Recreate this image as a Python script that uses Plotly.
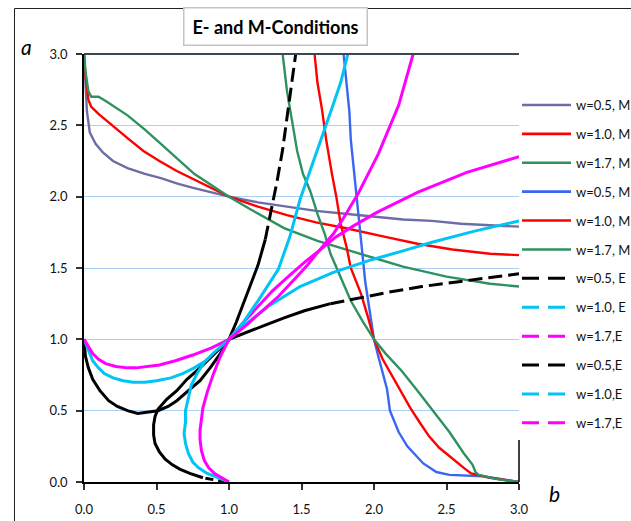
import plotly.graph_objects as go

# ---------------- data ----------------
X_TICKS = [0.0, 0.5, 1.0, 1.5, 2.0, 2.5, 3.0]
X_TICK_LABELS = ["0.0", "0.5", "1.0", "1.5", "2.0", "2.5", "3.0"]
Y_TICKS = [0.0, 0.5, 1.0, 1.5, 2.0, 2.5, 3.0]
Y_TICK_LABELS = ["0.0", "0.5", "1.0", "1.5", "2.0", "2.5", "3.0"]

NAMES = ["w=0.5, M", "w=1.0, M", "w=1.7, M", "w=0.5, M", "w=1.0, M", "w=1.7, M",
         "w=0.5, E", "w=1.0, E", "w=1.7,E", "w=0.5,E", "w=1.0,E", "w=1.7,E"]

# M-condition, first family (start at a=3 on the left)
M05A_X = [0, 0.01, 0.02, 0.04, 0.08, 0.13, 0.2, 0.3, 0.42, 0.53, 0.65, 0.76, 0.88, 1.0,
          1.2, 1.4, 1.6, 1.8, 2.0, 2.2, 2.4, 2.6, 2.8, 3.0]
M05A_Y = [3.0, 2.8, 2.6, 2.45, 2.37, 2.31, 2.25, 2.2, 2.16, 2.13, 2.09, 2.06, 2.03, 2.0,
          1.96, 1.93, 1.9, 1.88, 1.86, 1.84, 1.83, 1.81, 1.8, 1.79]
M10A_X = [0, 0.01, 0.03, 0.05, 0.1, 0.18, 0.3, 0.41, 0.52, 0.64, 0.76, 0.87, 1.0,
          1.2, 1.4, 1.6, 1.8, 2.07, 2.3, 2.54, 2.8, 3.0]
M10A_Y = [3.0, 2.85, 2.68, 2.63, 2.58, 2.51, 2.41, 2.32, 2.25, 2.18, 2.12, 2.06, 2.0,
          1.93, 1.87, 1.82, 1.78, 1.72, 1.67, 1.63, 1.6, 1.59]
M17A_X = [0, 0.01, 0.03, 0.05, 0.1, 0.15, 0.3, 0.42, 0.53, 0.65, 0.76, 0.88, 1.0,
          1.15, 1.38, 1.61, 1.8, 2.0, 2.2, 2.5, 2.8, 3.0]
M17A_Y = [3.0, 2.88, 2.74, 2.7, 2.7, 2.67, 2.57, 2.47, 2.37, 2.26, 2.16, 2.08, 2.0,
          1.91, 1.78, 1.69, 1.63, 1.57, 1.51, 1.44, 1.39, 1.37]

# M-condition, second family (start at a=3 near b=1.4..1.8, end at b=3, a=0)
M05B_X = [1.79, 1.81, 1.83, 1.84, 1.86, 1.88, 1.9, 1.92, 1.94, 1.97, 2.0, 2.03, 2.06,
          2.09, 2.11, 2.17, 2.23, 2.34, 2.43, 2.52, 2.75, 3.0]
M05B_Y = [3.0, 2.8, 2.6, 2.4, 2.2, 2.0, 1.8, 1.6, 1.4, 1.2, 1.0, 0.88, 0.76,
          0.65, 0.5, 0.35, 0.25, 0.13, 0.07, 0.05, 0.04, 0.0]
M10B_X = [1.59, 1.61, 1.64, 1.67, 1.71, 1.74, 1.77, 1.81, 1.84, 1.91, 1.96, 2.0, 2.06,
          2.12, 2.19, 2.25, 2.32, 2.38, 2.45, 2.52, 2.58, 2.63, 2.67, 2.8, 3.0]
M10B_Y = [3.0, 2.8, 2.62, 2.4, 2.16, 2.0, 1.81, 1.65, 1.5, 1.32, 1.15, 1.0, 0.86,
          0.75, 0.62, 0.52, 0.41, 0.32, 0.24, 0.18, 0.13, 0.09, 0.06, 0.03, 0.0]
M17B_X = [1.37, 1.4, 1.44, 1.47, 1.51, 1.56, 1.61, 1.66, 1.7, 1.77, 1.84, 1.92, 2.0,
          2.08, 2.19, 2.3, 2.42, 2.52, 2.62, 2.68, 2.7, 2.72, 2.85, 3.0]
M17B_Y = [3.0, 2.74, 2.5, 2.32, 2.16, 2.04, 1.88, 1.74, 1.6, 1.43, 1.27, 1.13, 1.0,
          0.9, 0.78, 0.64, 0.48, 0.35, 0.2, 0.12, 0.07, 0.05, 0.02, 0.0]

# E-condition, first family (start at a=1 on the left)
E05A_X = [0, 0.005, 0.01, 0.03, 0.06, 0.11, 0.17, 0.23, 0.3, 0.37, 0.44, 0.51, 0.58,
          0.64, 0.72, 0.8, 0.87, 0.94, 1.0, 1.12, 1.25, 1.38, 1.52, 1.7, 1.9, 2.1,
          2.33, 2.63, 2.88, 3.0]
E05A_Y = [1.0, 0.93, 0.88, 0.8, 0.72, 0.64, 0.57, 0.53, 0.5, 0.48, 0.49, 0.5, 0.53,
          0.57, 0.64, 0.71, 0.8, 0.9, 1.0, 1.05, 1.1, 1.15, 1.2, 1.25, 1.29, 1.33,
          1.37, 1.41, 1.44, 1.46]
E10A_X = [0, 0.03, 0.06, 0.1, 0.14, 0.2, 0.27, 0.34, 0.42, 0.5, 0.6, 0.68, 0.76, 0.84,
          0.91, 1.0, 1.12, 1.27, 1.49, 1.72, 1.99, 2.2, 2.4, 2.7, 3.0]
E10A_Y = [1.0, 0.92, 0.85, 0.8, 0.76, 0.73, 0.71, 0.7, 0.7, 0.71, 0.73, 0.76, 0.8, 0.85,
          0.91, 1.0, 1.11, 1.23, 1.37, 1.47, 1.56, 1.62, 1.68, 1.76, 1.83]
E17A_X = [0, 0.03, 0.06, 0.1, 0.15, 0.22, 0.3, 0.36, 0.45, 0.52, 0.63, 0.75, 0.88, 1.0,
          1.1, 1.2, 1.3, 1.42, 1.52, 1.62, 1.74, 1.85, 2.02, 2.3, 2.64, 3.0]
E17A_Y = [1.0, 0.95, 0.9, 0.86, 0.83, 0.81, 0.8, 0.8, 0.81, 0.82, 0.85, 0.89, 0.94, 1.0,
          1.12, 1.23, 1.34, 1.45, 1.54, 1.62, 1.72, 1.79, 1.89, 2.03, 2.17, 2.28]

# E-condition, second family (start at b=1 on the bottom)
E05B_X = [0.98, 0.9, 0.82, 0.73, 0.66, 0.61, 0.56, 0.52, 0.49, 0.48, 0.48, 0.49, 0.51,
          0.57, 0.64, 0.71, 0.8, 0.9, 1.0, 1.05, 1.1, 1.15, 1.2, 1.25, 1.29, 1.33,
          1.37, 1.41, 1.44, 1.46]
E05B_Y = [0.0, 0.015, 0.03, 0.06, 0.09, 0.12, 0.16, 0.21, 0.27, 0.33, 0.4, 0.46, 0.51,
          0.58, 0.64, 0.72, 0.8, 0.9, 1.0, 1.12, 1.25, 1.38, 1.52, 1.7, 1.9, 2.1,
          2.33, 2.63, 2.88, 3.0]
E10B_X = [1.0, 0.92, 0.85, 0.79, 0.75, 0.72, 0.7, 0.69, 0.7, 0.7, 0.72, 0.74, 0.78, 0.83,
          0.9, 1.0, 1.1, 1.2, 1.34, 1.42, 1.49, 1.58, 1.67, 1.72, 1.77, 1.82]
E10B_Y = [0.0, 0.03, 0.06, 0.1, 0.14, 0.2, 0.27, 0.34, 0.42, 0.5, 0.6, 0.68, 0.76, 0.84,
          0.91, 1.0, 1.12, 1.27, 1.49, 1.72, 1.98, 2.24, 2.49, 2.65, 2.8, 3.0]
E17B_X = [1.0, 0.95, 0.9, 0.86, 0.83, 0.81, 0.8, 0.8, 0.81, 0.82, 0.85, 0.89, 0.94, 1.0,
          1.12, 1.23, 1.34, 1.45, 1.54, 1.62, 1.72, 1.79, 1.89, 2.03, 2.17, 2.27]
E17B_Y = [0.0, 0.03, 0.06, 0.1, 0.15, 0.22, 0.3, 0.36, 0.45, 0.52, 0.63, 0.75, 0.88, 1.0,
          1.1, 1.2, 1.3, 1.42, 1.52, 1.62, 1.74, 1.85, 2.02, 2.3, 2.64, 3.0]

# ---------------- styling ----------------
PURPLE = "#6C6CA6"
RED = "#FF0000"
GREEN = "#2E9160"
BLUE = "#3A66F0"
BLACK = "#000000"
CYAN = "#00C4F4"
MAGENTA = "#FF00FF"
FONT = "Lato"
M_W = 2.4
E_W = 3.0
DASH_LEG = "17px,9px"
DASH_SPARSE = "14px,6px"
E05A_SOLID_END = 23     # black E curves look dashed where their points are sparse
E05B_SOLID_START = 2
E05B_SOLID_END = 23

fig = go.Figure()


def add_line(x, y, color, width, dash="solid"):
    fig.add_trace(go.Scatter(x=x, y=y, mode="lines", showlegend=False, hoverinfo="skip",
                             line=dict(color=color, width=width, dash=dash)))


add_line(M05A_X, M05A_Y, PURPLE, M_W)
add_line(M10A_X, M10A_Y, RED, M_W)
add_line(M17A_X, M17A_Y, GREEN, M_W)
add_line(M05B_X, M05B_Y, BLUE, M_W)
add_line(M10B_X, M10B_Y, RED, M_W)
add_line(M17B_X, M17B_Y, GREEN, M_W)

add_line(E05A_X[:E05A_SOLID_END + 1], E05A_Y[:E05A_SOLID_END + 1], BLACK, E_W)
add_line(E05A_X[E05A_SOLID_END:], E05A_Y[E05A_SOLID_END:], BLACK, E_W, DASH_SPARSE)
add_line(E10A_X, E10A_Y, CYAN, E_W)
add_line(E17A_X, E17A_Y, MAGENTA, E_W)
add_line(E05B_X[:E05B_SOLID_START + 1], E05B_Y[:E05B_SOLID_START + 1], BLACK, E_W, "8px,5px")
add_line(E05B_X[E05B_SOLID_START:E05B_SOLID_END + 1], E05B_Y[E05B_SOLID_START:E05B_SOLID_END + 1], BLACK, E_W)
add_line(E05B_X[E05B_SOLID_END:], E05B_Y[E05B_SOLID_END:], BLACK, E_W, DASH_SPARSE)
add_line(E10B_X, E10B_Y, CYAN, E_W)
add_line(E17B_X, E17B_Y, MAGENTA, E_W)

# legend entries
LEG_COLORS = [PURPLE, RED, GREEN, BLUE, RED, GREEN, BLACK, CYAN, MAGENTA, BLACK, CYAN, MAGENTA]
for i, (name, col) in enumerate(zip(NAMES, LEG_COLORS)):
    fig.add_trace(go.Scatter(x=[None], y=[None], mode="lines", name=name,
                             legendgroup="g%d" % i, showlegend=True,
                             line=dict(color=col, width=3 if i >= 6 else 2.6,
                                       dash=DASH_LEG if i >= 6 else "solid")))

L, R, T, B = 84, 112, 54, 39
W, H = 631, 521
PW, PH = W - L - R, H - T - B


def px(xp):
    return (xp - L) / PW


def py(yp):
    return (H - B - yp) / PH


fig.update_layout(
    width=W, height=H,
    margin=dict(l=L, r=R, t=T, b=B, pad=0, autoexpand=False),
    paper_bgcolor="white", plot_bgcolor="white",
    font=dict(family=FONT, size=13, color="#111"),
    showlegend=True,
    legend=dict(x=px(517), xanchor="left", y=py(90), yanchor="top", itemwidth=49,
                font=dict(family=FONT, size=13, color="#111"),
                tracegroupgap=9, bgcolor="rgba(0,0,0,0)", borderwidth=0,
                itemclick=False, itemdoubleclick=False),
    xaxis=dict(range=[0, 3], tickvals=X_TICKS, ticktext=X_TICK_LABELS, automargin=False,
               showgrid=False, zeroline=False, showline=True, linecolor="black",
               linewidth=2, ticks="outside", ticklen=6, tickwidth=1.5, tickcolor="#333",
               ticklabelstandoff=8, tickfont=dict(family=FONT, size=13, color="#111")),
    yaxis=dict(range=[0, 3], tickvals=Y_TICKS, ticktext=Y_TICK_LABELS, automargin=False,
               showgrid=True, gridcolor="#A9CFF3", gridwidth=1, zeroline=False,
               showline=True, linecolor="black", linewidth=1.5,
               ticks="outside", ticklen=6, tickwidth=1.5, tickcolor="#333",
               ticklabelstandoff=6, tickfont=dict(family=FONT, size=13, color="#111")),
)

# chart frame, top border of plot area and visible bit of the right border
fig.add_shape(type="rect", xref="paper", yref="paper", x0=px(14.5), y0=-0.3, x1=1.5, y1=py(8.5),
              line=dict(color="#222", width=1), layer="above")
fig.add_shape(type="line", xref="paper", yref="paper", x0=0, x1=1, y0=1, y1=1,
              line=dict(color="#3B4753", width=2), layer="above")
fig.add_shape(type="line", xref="paper", yref="paper", x0=1, x1=1, y0=0, y1=py(440),
              line=dict(color="black", width=1.5), layer="above")

# title box and axis names
fig.add_annotation(xref="paper", yref="paper", x=px(275), y=py(26), showarrow=False,
                   text="<b>E- and M-Conditions</b>", font=dict(family=FONT, size=18, color="black"),
                   bgcolor="white", bordercolor="#C4C4C4", borderwidth=1.5,
                   width=180, height=34, xanchor="center", yanchor="middle")
fig.add_annotation(xref="paper", yref="paper", x=px(26), y=py(46), showarrow=False,
                   text="<i>a</i>", font=dict(family=FONT, size=21, color="black"),
                   xanchor="center", yanchor="middle")
fig.add_annotation(xref="paper", yref="paper", x=px(554), y=py(494), showarrow=False,
                   text="<i>b</i>", font=dict(family=FONT, size=21, color="black"),
                   xanchor="center", yanchor="middle")

# the page's default body margin would shift the figure by 8 px; remove it
fig.write_html("out.html", config={"displayModeBar": False},
               post_script="document.body.style.margin='0';document.body.style.overflow='hidden';")
